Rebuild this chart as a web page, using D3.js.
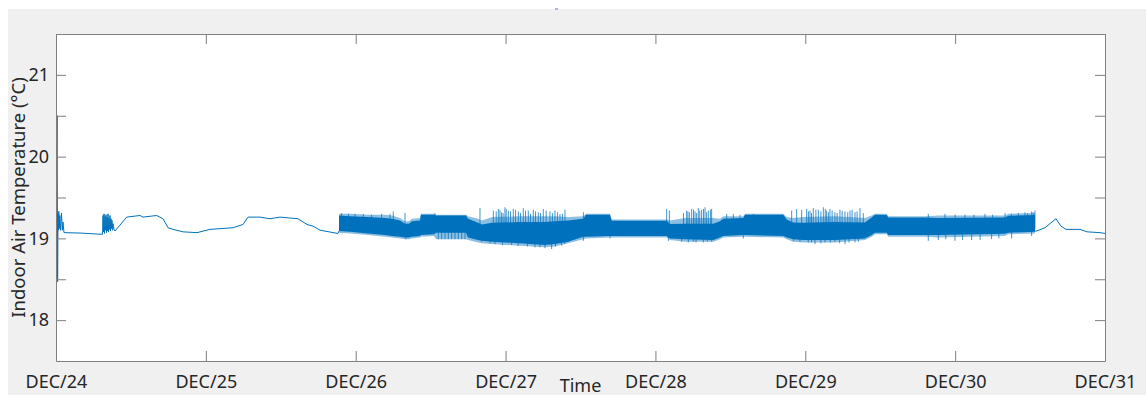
<!DOCTYPE html>
<html>
<head>
<meta charset="utf-8">
<script src="https://cdn.jsdelivr.net/npm/d3@7"></script>
<style>
  html, body { margin: 0; padding: 0; background: #fff; }
  svg { display: block; }
  .axis .domain, .axis line { stroke: #7f7f7f; }
  .axis text { fill: #262626; font-family: "Noto Sans", sans-serif; font-size: 18px; }
  .lbl { fill: #262626; font-family: "Noto Sans", sans-serif; }
</style>
</head>
<body>
<div id="chart"></div>
<script>
// hours since DEC/24 00:00, temperature in degC
var quietStart = [
  [0.00, 19.10], [0.18, 20.50], [0.26, 18.47], [0.32, 19.30], [0.38, 19.10], [0.45, 19.33],
  [0.52, 19.12], [0.61, 19.28], [0.72, 19.10], [0.88, 19.31], [1.01, 19.10], [1.12, 19.20],
  [1.28, 19.07], [3.84, 19.065], [7.37, 19.05],
  [7.45, 19.05], [7.53, 19.28], [7.61, 19.08], [7.69, 19.30], [7.77, 19.06], [7.85, 19.27],
  [7.93, 19.10], [8.01, 19.29], [8.09, 19.07], [8.17, 19.26], [8.25, 19.09], [8.33, 19.30],
  [8.41, 19.08], [8.49, 19.25], [8.57, 19.11], [8.65, 19.28], [8.73, 19.09], [8.81, 19.24],
  [8.89, 19.12], [8.97, 19.22], [9.05, 19.10], [9.13, 19.18], [9.29, 19.11], [9.45, 19.09],
  [11.32, 19.26], [13.45, 19.28], [13.93, 19.26], [16.13, 19.28], [17.14, 19.24], [17.94, 19.13],
  [18.74, 19.11], [20.34, 19.08], [22.58, 19.07], [24.66, 19.11], [28.35, 19.13], [29.95, 19.17],
  [30.75, 19.26], [32.67, 19.26], [34.27, 19.24], [35.87, 19.26], [38.76, 19.24], [40.20, 19.17],
  [41.16, 19.15], [42.28, 19.10], [45.16, 19.06], [45.32, 19.09]
];

var quietEnd = [
  [156.79, 19.09], [157.06, 19.09], [158.39, 19.13], [159.19, 19.18], [160.15, 19.24],
  [160.95, 19.15], [161.75, 19.11], [163.99, 19.11], [165.11, 19.08], [167.2, 19.07], [168.0, 19.06]
];

// dense oscillation band (DEC/25 evening .. DEC/30 afternoon): solid core and hairline range
var bandHours = [45.32, 47.08, 49.97, 52.69, 53.81, 55.09, 55.89, 56.53, 57.01, 58.29, 58.45, 60.54,
  60.86, 65.66, 65.98, 67.58, 68.22, 69.83, 74.31, 78.31, 79.91, 82.0, 84.45, 84.88, 88.72, 89.0,
  97.8, 98.33, 100.73, 105.27, 106.34, 106.87, 110.07, 110.34, 116.48, 117.02, 118.08, 119.68,
  124.76, 129.56, 130.63, 131.16, 133.04, 133.29, 139.17, 141.3, 151.98, 152.51, 156.79];
var bandUpper = [19.28, 19.27, 19.26, 19.25, 19.24, 19.22, 19.18, 19.18, 19.21, 19.22, 19.29, 19.29,
  19.28, 19.28, 19.24, 19.19, 19.17, 19.19, 19.20, 19.20, 19.21, 19.22, 19.24, 19.29, 19.29, 19.215,
  19.215, 19.175, 19.18, 19.18, 19.21, 19.24, 19.25, 19.29, 19.29, 19.23, 19.195, 19.19,
  19.20, 19.195, 19.256, 19.29, 19.285, 19.256, 19.256, 19.25, 19.256, 19.276, 19.285];
var bandLower = [19.09, 19.08, 19.06, 19.04, 19.03, 19.02, 19.01, 19.01, 19.02, 19.03, 19.04, 19.05,
  19.07, 19.07, 19.01, 18.98, 18.97, 18.96, 18.94, 18.92, 18.93, 18.96, 19.02, 19.02, 19.03, 19.03,
  19.03, 19.00, 18.99, 18.98, 19.01, 19.03, 19.04, 19.04, 19.03, 19.01, 18.99, 18.98,
  18.98, 19.00, 19.04, 19.07, 19.07, 19.04, 19.04, 19.04, 19.057, 19.07, 19.08];
var bandOuterUpper = [19.30, 19.30, 19.29, 19.29, 19.28, 19.25, 19.21, 19.21, 19.24, 19.25, 19.30, 19.30,
  19.29, 19.29, 19.27, 19.24, 19.22, 19.26, 19.27, 19.27, 19.27, 19.26, 19.27, 19.30, 19.30, 19.23,
  19.23, 19.22, 19.25, 19.25, 19.24, 19.27, 19.27, 19.30, 19.30, 19.26, 19.25, 19.26,
  19.27, 19.25, 19.28, 19.30, 19.30, 19.27, 19.27, 19.28, 19.28, 19.30, 19.31];
var bandOuterLower = [19.07, 19.06, 19.04, 19.02, 19.01, 19.00, 18.99, 18.99, 19.00, 19.01, 19.02, 19.03,
  18.99, 18.99, 18.98, 18.95, 18.94, 18.93, 18.91, 18.89, 18.90, 18.94, 18.99, 19.00, 19.01, 19.01,
  19.01, 18.98, 18.96, 18.96, 18.99, 19.01, 19.02, 19.02, 19.01, 18.99, 18.96, 18.95,
  18.95, 18.98, 19.02, 19.05, 19.05, 19.02, 19.02, 19.01, 19.03, 19.05, 19.06];

var spikeUpHours = [45.75, 46.82, 47.88, 49.22, 50.55, 52.15, 53.49, 54.02, 55.89, 60.69, 67.9,
  70.04, 70.84, 71.37, 71.9, 72.44, 73.24, 74.04, 74.84, 75.64, 76.44, 77.24, 78.04, 79.11, 79.91,
  80.71, 81.51, 84.46, 97.8, 98.23, 101.0, 101.43, 101.8, 102.34, 102.87, 103.4, 103.94, 104.47,
  105.0, 107.41, 108.48, 109.54, 111.68, 117.82, 118.62, 119.42, 120.22, 120.75, 121.28, 122.09,
  122.89, 123.42, 123.95, 124.75, 125.55, 126.36, 127.16, 127.96, 128.76, 129.29, 139.7, 142.37,
  145.57, 148.78, 151.98, 154.11, 155.18, 156.25, 156.78,
  70.5, 71.1, 71.6, 72.1, 72.8, 73.6, 74.4, 75.2, 76.0, 76.8, 77.6, 78.5, 79.5, 80.3, 81.1,
  100.5, 101.2, 102.1, 102.6, 103.1, 103.7, 104.2, 104.8,
  120.5, 121.0, 121.7, 122.5, 123.2, 123.7, 124.3, 125.1, 125.9, 126.8, 127.5, 128.3,
  144.0, 147.0, 150.0, 153.0, 155.6, 156.5];
var spikeUpTemp = [19.31, 19.30, 19.30, 19.30, 19.29, 19.30, 19.30, 19.33, 19.31, 19.31, 19.37,
  19.34, 19.36, 19.32, 19.38, 19.34, 19.36, 19.33, 19.37, 19.34, 19.35, 19.32, 19.36, 19.33, 19.34,
  19.30, 19.35, 19.32, 19.36, 19.34, 19.34, 19.32, 19.36, 19.33, 19.37, 19.35, 19.38, 19.34,
  19.36, 19.30, 19.30, 19.29, 19.30, 19.34, 19.36, 19.35, 19.36, 19.34, 19.37, 19.35,
  19.38, 19.34, 19.36, 19.32, 19.35, 19.33, 19.34, 19.32, 19.37, 19.31, 19.30, 19.30,
  19.29, 19.30, 19.31, 19.31, 19.32, 19.33, 19.34,
  19.33, 19.35, 19.31, 19.36, 19.33, 19.35, 19.31, 19.34, 19.30, 19.33, 19.31, 19.34, 19.31, 19.32, 19.30,
  19.31, 19.33, 19.35, 19.31, 19.34, 19.36, 19.32, 19.35,
  19.33, 19.31, 19.35, 19.33, 19.36, 19.32, 19.34, 19.31, 19.34, 19.32, 19.35, 19.33,
  19.29, 19.29, 19.29, 19.30, 19.31, 19.32];

var spikeDownHours = [56.05, 61.23, 61.76, 62.3, 62.83, 63.36, 63.9, 64.43, 64.97, 65.5, 68.17, 70.3,
  72.97, 76.71, 78.31, 79.38, 80.98, 84.46, 88.73, 98.07, 101.27, 102.07, 103.67, 105.0, 110.08,
  118.09, 119.15, 120.48, 121.55, 123.15, 124.75, 126.36, 127.96, 139.7, 141.3, 143.97, 146.64,
  149.84, 153.05, 156.25,
  69.5, 71.5, 74.0, 75.5, 77.5, 80.0, 81.5, 100.2, 102.5, 104.3,
  121.0, 122.5, 124.0, 125.5, 127.0, 128.5, 142.5, 145.2, 148.0, 151.0];
var spikeDownTemp = [18.99, 18.99, 18.99, 18.99, 18.99, 18.99, 18.99, 18.99, 18.99, 18.99, 18.96, 18.93,
  18.92, 18.89, 18.88, 18.87, 18.91, 18.97, 19.00, 18.97, 18.95, 18.96, 18.95, 18.96, 19.00,
  18.97, 18.96, 18.95, 18.93, 18.95, 18.96, 18.93, 18.95, 18.97, 18.98, 18.97, 18.98,
  18.99, 19.00, 19.03,
  18.94, 18.92, 18.91, 18.90, 18.89, 18.90, 18.93, 18.96, 18.95, 18.96,
  18.95, 18.94, 18.95, 18.94, 18.95, 18.96, 18.99, 18.98, 18.98, 19.00];

var dayLabels = ["DEC/24", "DEC/25", "DEC/26", "DEC/27", "DEC/28", "DEC/29", "DEC/30", "DEC/31"];
var yTicks = [18, 18.5, 19, 19.5, 20, 20.5, 21];

var W = 1146, H = 396;
var plotL = 56, plotR = 1105, plotT = 34, plotB = 361;
var blue = "#0072BD";

var startDate = new Date(2019, 11, 24);
var toDate = function(h) { return new Date(startDate.getTime() + h * 3600e3); };

var svg = d3.select("#chart").append("svg").attr("width", W).attr("height", H);

svg.append("rect").attr("x", 8).attr("y", 9).attr("width", W - 8).attr("height", H - 10).attr("fill", "#f0f0f0");
svg.append("rect").attr("x", 555).attr("y", 8).attr("width", 3).attr("height", 2).attr("fill", "#a7b9d3");
svg.append("rect").attr("x", plotL).attr("y", plotT).attr("width", plotR - plotL).attr("height", plotB - plotT).attr("fill", "#fff");

var x = d3.scaleTime().domain([startDate, toDate(168)]).range([plotL, plotR]);
var y = d3.scaleLinear().domain([17.5, 21.5]).range([plotB, plotT]);

svg.append("clipPath").attr("id", "plot")
  .append("rect").attr("x", plotL).attr("y", plotT).attr("width", plotR - plotL).attr("height", plotB - plotT);

var g = svg.append("g").attr("clip-path", "url(#plot)");

var band = bandHours.map(function(h, i) {
  return { h: h, hi: bandUpper[i], lo: bandLower[i], ohi: bandOuterUpper[i], olo: bandOuterLower[i] };
});
var bx = function(d) { return x(toDate(d.h)); };

// hairline range, lighter
g.append("path")
  .datum(band)
  .attr("fill", blue)
  .attr("fill-opacity", 0.45)
  .attr("d", d3.area().x(bx)
    .y0(function(d) { return y(d.olo); })
    .y1(function(d) { return y(d.ohi); }));

// solid core
g.append("path")
  .datum(band)
  .attr("fill", blue)
  .attr("d", d3.area().x(bx)
    .y0(function(d) { return y(d.lo); })
    .y1(function(d) { return y(d.hi); }));

g.selectAll("line.up")
  .data(spikeUpHours)
  .enter().append("line")
  .attr("class", "up")
  .attr("x1", function(h) { return x(toDate(h)); })
  .attr("x2", function(h) { return x(toDate(h)); })
  .attr("y1", y(19.12))
  .attr("y2", function(h, i) { return y(spikeUpTemp[i]); })
  .attr("stroke", blue).attr("stroke-width", 1).attr("stroke-opacity", 0.75);

g.selectAll("line.down")
  .data(spikeDownHours)
  .enter().append("line")
  .attr("class", "down")
  .attr("x1", function(h) { return x(toDate(h)); })
  .attr("x2", function(h) { return x(toDate(h)); })
  .attr("y1", y(19.1))
  .attr("y2", function(h, i) { return y(spikeDownTemp[i]); })
  .attr("stroke", blue).attr("stroke-width", 1).attr("stroke-opacity", 0.75);

var line = d3.line()
  .x(function(d) { return x(toDate(d[0])); })
  .y(function(d) { return y(d[1]); });

[quietStart, quietEnd].forEach(function(seg) {
  g.append("path").datum(seg)
    .attr("fill", "none").attr("stroke", blue).attr("stroke-width", 1)
    .attr("d", line);
});

var days = d3.range(8).map(function(i) { return toDate(i * 24); });

svg.append("g").attr("class", "axis").attr("transform", "translate(0," + plotB + ")")
  .call(d3.axisBottom(x).tickValues(days).tickSize(-10).tickSizeOuter(0).tickPadding(14)
    .tickFormat(function(d, i) { return dayLabels[i]; }));
svg.append("g").attr("class", "axis").attr("transform", "translate(0," + plotT + ")")
  .call(d3.axisTop(x).tickValues(days).tickSize(-10).tickSizeOuter(0).tickFormat(""));
svg.append("g").attr("class", "axis").attr("transform", "translate(" + plotL + ",0)")
  .call(d3.axisLeft(y).tickValues(yTicks).tickSize(-10).tickSizeOuter(0).tickPadding(7)
    .tickFormat(function(d) { return Number.isInteger(d) ? d : ""; }));
svg.append("g").attr("class", "axis").attr("transform", "translate(" + plotR + ",0)")
  .call(d3.axisRight(y).tickValues(yTicks).tickSize(-10).tickSizeOuter(0).tickFormat(""));

svg.append("text").attr("class", "lbl")
  .attr("transform", "translate(25," + ((plotT + plotB) / 2) + ") rotate(-90)")
  .attr("text-anchor", "middle").attr("font-size", 18.5)
  .text("Indoor Air Temperature (°C)");

svg.append("text").attr("class", "lbl")
  .attr("x", (plotL + plotR) / 2).attr("y", 392)
  .attr("text-anchor", "middle").attr("font-size", 18)
  .text("Time");
</script>
</body>
</html>
